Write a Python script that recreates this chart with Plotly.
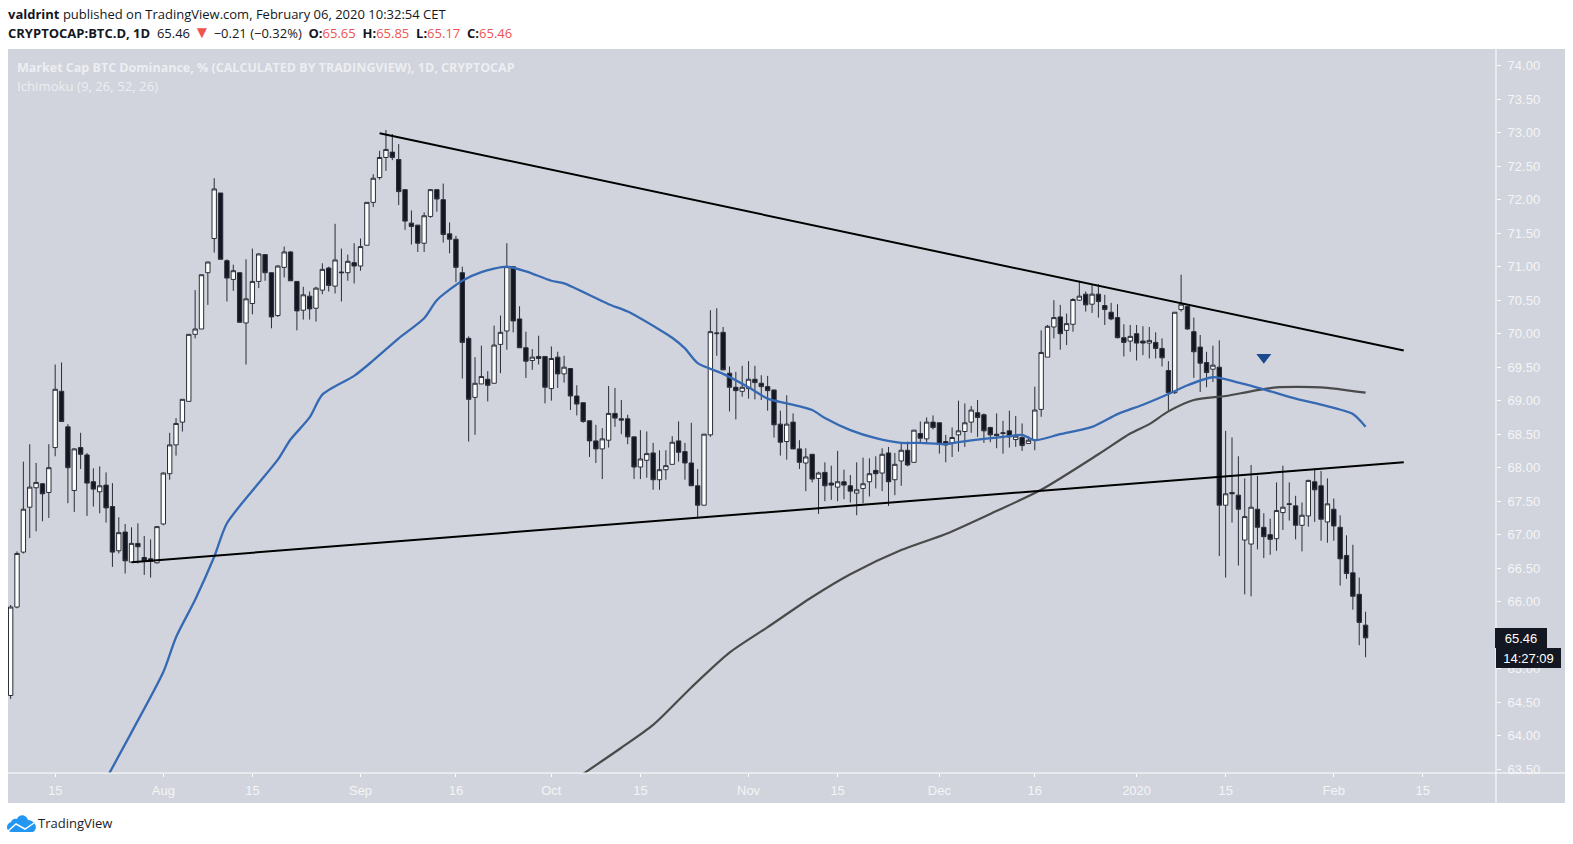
import pandas as pd
import plotly.graph_objects as go

START_DATE = "2019-07-08"
opens = [
 64.6,65.92,66.74,67.41,67.70,67.76,67.63,68.3,69.14,68.61,67.66,68.3,68.19,67.79,67.64,67.74,67.42,66.76,67.04,66.59,66.87,66.66,66.64,66.58,
 67.16,67.91,68.34,68.68,68.99,69.99,70.07,70.91,71.42,72.1,71.09,70.81,70.91,70.16,70.45,70.78,71.18,70.91,70.27,70.99,71.22,70.78,70.35,70.56,70.38,70.65,70.98,70.71,70.92,70.91,71.06,
 71.01,71.32,71.96,72.33,72.63,72.71,72.6,72.15,71.65,71.62,71.35,71.75,72.15,72.0,71.49,71.41,70.91,69.93,69.05,69.25,69.32,69.26,69.84,70.04,71.0,70.22,69.79,69.6,69.66,69.66,
 69.18,69.65,69.4,69.48,69.07,68.97,68.7,68.4,68.28,68.41,68.81,68.73,68.73,68.46,68.01,68.11,68.22,67.82,67.97,68.05,68.4,68.24,68.07,67.73,67.44,68.49,70.0,70.02,69.41,69.2,69.14,
 69.18,69.32,69.26,69.21,69.16,68.65,68.39,68.68,68.28,68.07,68.2,67.84,67.93,67.77,67.71,67.79,67.73,67.62,67.69,67.79,67.96,67.92,68.22,67.82,68.1,68.26,68.08,68.51,68.43,68.68,
 68.67,68.39,68.37,68.49,68.54,68.68,68.82,68.79,68.6,68.5,68.51,68.55,68.42,68.45,68.36,68.41,68.87,69.65,70.1,70.25,70.05,70.14,70.5,70.59,70.44,70.59,70.42,70.32,70.24,69.94,69.89,
 70.0,69.89,69.86,69.87,69.78,69.45,69.12,70.36,70.41,70.03,69.8,69.57,69.47,69.5,67.44,67.63,67.59,66.92,66.86,67.38,67.11,67.0,66.94,67.33,67.45,67.43,67.14,67.28,67.79,67.73,67.19,
 67.38,67.11,66.69,66.43,66.11,65.65,
]
highs = [
 65.95,66.75,68.09,68.35,68.07,67.77,68.35,69.54,69.57,68.65,68.29,68.52,68.22,67.99,68.02,67.93,67.77,67.26,67.16,67.11,67.17,66.98,66.93,67.13,
 67.93,68.52,68.74,69.02,69.99,70.65,70.88,71.07,72.32,72.1,71.11,71.03,70.92,71.11,71.27,71.2,71.18,70.91,71.02,71.3,71.23,70.78,70.7,70.63,70.7,71.05,71.0,71.64,71.27,71.18,71.35,
 71.42,71.96,72.38,72.73,73.04,72.98,72.83,72.15,71.84,71.62,71.81,72.15,72.15,72.24,71.66,71.46,71.0,69.96,69.65,69.82,69.44,70.12,70.27,71.35,71.0,70.41,70.03,69.77,69.97,69.66,
 69.81,69.73,69.67,69.48,69.23,68.97,68.7,68.64,68.59,69.22,69.19,69.01,68.79,68.46,68.56,68.54,68.37,68.26,68.26,68.47,68.69,68.37,68.67,67.98,68.5,70.35,70.38,70.1,69.51,69.43,69.52,
 69.59,69.52,69.38,69.37,69.16,68.85,69.08,68.81,68.41,68.29,68.2,67.94,68.08,68.03,68.25,67.97,67.89,68.08,68.15,68.14,68.17,68.29,68.31,68.22,68.36,68.39,68.56,68.69,68.75,68.78,
 68.67,68.49,68.6,69.0,68.96,68.92,69.01,68.81,68.61,68.81,68.7,68.85,68.77,68.66,68.47,69.21,70.05,70.13,70.5,70.43,70.3,70.53,70.79,70.63,70.73,70.74,70.58,70.46,70.44,70.14,70.13,
 70.13,70.11,70.1,70.02,69.93,69.59,70.32,70.88,70.42,70.24,69.98,69.73,69.82,69.9,68.55,68.45,68.17,67.84,68.04,67.88,67.32,67.24,67.78,68.03,67.78,67.58,67.48,67.82,67.99,67.95,67.84,
 67.54,67.29,66.99,66.85,66.36,65.85,
]
lows = [
 64.55,65.9,66.72,66.95,67.05,67.2,67.25,68.17,68.69,67.47,67.34,67.98,67.28,67.42,67.32,67.18,66.52,66.72,66.42,66.59,66.57,66.4,66.36,66.57,
 67.14,67.82,68.18,68.54,68.99,69.93,70.07,70.43,71.21,71.11,70.48,70.64,70.17,69.54,70.29,70.68,70.79,70.08,70.25,70.84,70.79,70.05,70.21,70.21,70.18,70.59,70.63,70.6,70.48,70.79,70.75,
 70.94,71.32,71.89,72.3,72.43,72.59,71.92,71.55,71.33,71.22,71.22,71.73,71.82,71.36,71.2,70.77,69.33,68.39,68.49,69.25,68.99,69.26,69.41,69.76,70.02,69.79,69.34,69.46,69.54,68.96,
 69.0,69.19,69.27,68.86,68.78,68.67,68.16,68.07,67.83,68.3,68.61,68.5,68.35,67.83,67.83,67.85,67.67,67.67,67.82,68.05,68.09,67.82,67.73,67.24,67.44,68.46,69.67,69.46,68.84,68.72,69.06,
 69.03,69.02,69.01,68.85,68.45,68.18,68.12,68.28,67.98,67.65,67.78,67.31,67.5,67.52,67.5,67.53,67.48,67.29,67.47,67.57,67.69,67.65,67.43,67.59,67.73,68.02,68.08,68.36,68.36,68.57,
 68.21,68.08,68.16,68.24,68.31,68.52,68.46,68.37,68.38,68.29,68.21,68.3,68.31,68.25,68.36,68.26,68.76,69.65,69.93,69.76,69.83,70.03,70.49,70.33,70.31,70.24,70.13,70.2,69.93,69.66,69.73,
 69.6,69.68,69.63,69.63,69.51,68.85,69.1,70.33,70.06,69.34,69.13,69.2,69.28,66.68,66.36,67.18,66.54,66.11,66.08,66.78,66.65,66.7,66.76,67.07,67.21,66.93,66.75,67.12,67.19,66.91,66.88,
 66.91,66.24,66.34,65.88,65.35,65.17,
]
closes = [
 65.92,66.72,67.38,67.71,67.78,67.61,68.0,69.17,68.69,68.0,68.28,68.2,67.77,67.68,67.73,67.4,66.74,67.03,66.61,66.87,66.82,66.61,66.6,67.12,
 67.92,68.34,68.66,69.02,69.99,70.07,70.88,71.07,72.16,71.11,70.83,70.94,70.17,70.52,70.78,71.19,70.91,70.25,71.01,71.22,70.79,70.34,70.58,70.37,70.68,70.96,70.72,71.1,70.91,71.08,71.01,
 71.3,71.96,72.32,72.63,72.75,72.63,72.12,71.68,71.6,71.35,71.76,72.15,72.01,71.48,71.41,70.99,69.87,69.02,69.26,69.36,69.23,69.83,70.02,71.0,70.19,69.79,69.59,69.65,69.63,69.2,
 69.63,69.4,69.5,69.07,68.95,68.69,68.4,68.28,68.43,68.81,68.74,68.71,68.46,68.01,68.13,68.21,67.82,67.97,68.03,68.38,68.23,68.07,67.73,67.44,68.5,70.03,70.01,69.46,69.2,69.15,69.2,
 69.32,69.27,69.21,69.15,68.64,68.38,68.65,68.28,68.08,68.16,67.83,67.92,67.73,67.74,67.79,67.74,67.65,67.67,67.76,67.91,67.91,68.2,67.79,68.05,68.26,68.04,68.56,68.44,68.68,68.6,
 68.35,68.34,68.45,68.55,68.67,68.86,68.75,68.55,68.49,68.48,68.52,68.46,68.47,68.33,68.41,68.86,69.72,70.11,70.24,70.0,70.15,70.51,70.56,70.43,70.59,70.48,70.36,70.22,69.94,69.87,69.96,
 69.86,69.86,69.9,69.78,69.64,69.12,70.32,70.44,70.07,69.73,69.56,69.42,69.53,67.44,67.61,67.61,67.38,67.27,67.41,67.11,66.97,66.93,67.36,67.41,67.46,67.14,67.29,67.81,67.67,67.23,67.46,
 67.13,66.64,66.42,66.08,65.69,65.46,
]

blue_dates = ["2019-07-23","2019-07-27","2019-08-01","2019-08-03","2019-08-06","2019-08-09","2019-08-11","2019-08-16","2019-08-19","2019-08-21","2019-08-24","2019-08-26","2019-08-31","2019-09-03","2019-09-07","2019-09-11","2019-09-13","2019-09-17","2019-09-20","2019-09-24","2019-09-27","2019-10-01","2019-10-03","2019-10-10","2019-10-13","2019-10-18","2019-10-20","2019-10-22","2019-10-24","2019-10-28","2019-11-01","2019-11-04","2019-11-07","2019-11-11","2019-11-13","2019-11-17","2019-11-21","2019-11-25","2019-11-28","2019-12-02","2019-12-04","2019-12-08","2019-12-12","2019-12-14","2019-12-16","2019-12-20","2019-12-25","2019-12-29","2020-01-02","2020-01-06","2020-01-09","2020-01-13","2020-01-17","2020-01-21","2020-01-26","2020-01-30","2020-02-04","2020-02-06"]
blue_vals = [63.35,64.05,64.95,65.47,66.03,66.67,67.17,67.77,68.12,68.42,68.75,69.09,69.37,69.6,69.93,70.23,70.5,70.79,70.92,71.0,70.93,70.79,70.75,70.44,70.33,70.06,69.94,69.78,69.56,69.4,69.2,69.03,68.96,68.86,68.74,68.56,68.44,68.37,68.37,68.35,68.38,68.43,68.47,68.49,68.41,68.5,68.61,68.8,68.94,69.1,69.23,69.35,69.27,69.17,69.03,68.94,68.8,68.61]

gray_dates = ["2019-10-06","2019-10-12","2019-10-17","2019-10-23","2019-10-29","2019-11-04","2019-11-11","2019-11-17","2019-11-25","2019-12-02","2019-12-09","2019-12-17","2019-12-26","2019-12-31","2020-01-03","2020-01-06","2020-01-10","2020-01-15","2020-01-19","2020-01-23","2020-01-30","2020-02-02","2020-02-06"]
gray_vals = [63.43,63.82,64.16,64.72,65.24,65.62,66.07,66.41,66.77,67.01,67.31,67.67,68.2,68.51,68.65,68.84,69.01,69.07,69.14,69.2,69.2,69.17,69.12]

upper_dates = ["2019-09-04","2020-02-12"]
upper_vals = [72.99,69.75]
lower_dates = ["2019-07-27","2020-02-12"]
lower_vals = [66.59,68.08]
flag_date = ["2020-01-21"]
flag_val = [69.65]

tick_dates = ["2019-07-15","2019-08-01","2019-08-15","2019-09-01","2019-09-16","2019-10-01","2019-10-15","2019-11-01","2019-11-15","2019-12-01","2019-12-16","2020-01-01","2020-01-15","2020-02-01","2020-02-15"]
tick_text = ["15","Aug","15","Sep","16","Oct","15","Nov","15","Dec","16","2020","15","Feb","15"]
price_ticks = [63.5,64,64.5,65,65.5,66,66.5,67,67.5,68,68.5,69,69.5,70,70.5,71,71.5,72,72.5,73,73.5,74]

BG = "#d1d4dc"
DARK = "#131722"
LABEL = "#f4f5f7"
PL, PR, PT, PB = 8, 1496, 49, 773

def fx(x):
    return (x - PL) / (PR - PL)
def fy(y):
    return 1 - (y - PT) / (PB - PT)
def curve(start, segments):
    s = f"M {fx(start[0]):.5f},{fy(start[1]):.5f}"
    for a, b, c in segments:
        s += " C " + " ".join(f"{fx(p[0]):.5f},{fy(p[1]):.5f}" for p in (a, b, c))
    return s + " Z"
def poly(points):
    return "M " + " L ".join(f"{fx(p[0]):.5f},{fy(p[1]):.5f}" for p in points)

dates = pd.date_range(START_DATE, periods=len(opens)).strftime("%Y-%m-%d").tolist()

fig = go.Figure()
fig.add_trace(go.Candlestick(
    x=dates, open=opens, high=highs, low=lows, close=closes,
    increasing=dict(fillcolor="#ffffff", line=dict(color="#2a2d38", width=1)),
    decreasing=dict(fillcolor=DARK, line=dict(color="#2a2d38", width=1)),
    whiskerwidth=0, hoverinfo="skip", showlegend=False))
fig.add_trace(go.Scatter(x=gray_dates, y=gray_vals, mode="lines",
                         line=dict(color="#4a4a4a", width=2.2, shape="spline", smoothing=0.7), hoverinfo="skip"))
fig.add_trace(go.Scatter(x=blue_dates, y=blue_vals, mode="lines",
                         line=dict(color="#3569b3", width=2.3, shape="spline", smoothing=0.7), hoverinfo="skip"))
fig.add_trace(go.Scatter(x=upper_dates, y=upper_vals, mode="lines", line=dict(color="#000000", width=2), hoverinfo="skip"))
fig.add_trace(go.Scatter(x=lower_dates, y=lower_vals, mode="lines", line=dict(color="#000000", width=2), hoverinfo="skip"))
fig.add_trace(go.Scatter(x=flag_date, y=flag_val, mode="markers",
                         marker=dict(symbol="triangle-down", size=13, color="#1a4a8e"), hoverinfo="skip"))

cloud = curve((12, 832), [((6, 832), (5, 824), (11, 822)), ((12, 819), (15, 818), (17, 819)),
                          ((19, 814), (26, 814), (28, 820)), ((33, 820), (38, 826), (35, 830)),
                          ((34, 832), (33, 832), (31, 832))])
shapes = [
    dict(type="rect", xref="paper", yref="paper", x0=fx(8), x1=fx(1565), y0=fy(49), y1=fy(803),
         fillcolor=BG, line=dict(width=0), layer="below"),
    dict(type="line", xref="paper", yref="paper", x0=fx(8), x1=fx(1565), y0=0, y1=0, line=dict(color="#ffffff", width=1)),
    dict(type="line", xref="paper", yref="paper", x0=1, x1=1, y0=fy(49), y1=fy(803), line=dict(color="#ffffff", width=1)),
    dict(type="path", xref="paper", yref="paper", fillcolor="#2196f3", line=dict(width=0), path=cloud),
    dict(type="path", xref="paper", yref="paper", line=dict(color="#ffffff", width=1.5),
         path=poly([(8, 831), (16, 824), (25, 829), (34, 823)])),
]

def note(x, y, text, size=13, color="#131722", family="Open Sans", **kw):
    return dict(xref="paper", yref="paper", x=fx(x), y=fy(y), text=text, showarrow=False,
                xanchor="left", yanchor="middle", align="left", font=dict(size=size, color=color, family=family), **kw)

RED = "#ef5350"
annotations = [
    note(6, 14, "<b>valdrint</b> published on TradingView.com, February 06, 2020 10:32:54 CET", size=13),
    note(6, 31.5, f"<b>CRYPTOCAP:BTC.D, 1D</b>  65.46 <span style='color:{RED};font-size:17px'>▼</span> −0.21 (−0.32%)  "
                f"<b>O:</b><span style='color:{RED}'>65.65</span>  <b>H:</b><span style='color:{RED}'>65.85</span>  "
                f"<b>L:</b><span style='color:{RED}'>65.17</span>  <b>C:</b><span style='color:{RED}'>65.46</span>", size=13),
    note(15, 67, "<b>Market Cap BTC Dominance, % (CALCULATED BY TRADINGVIEW), 1D, CRYPTOCAP</b>", size=12.5, color="#eceef2"),
    note(15, 86, "Ichimoku (9, 26, 52, 26)", size=13.2, color="#eceef2"),
    note(36, 823, "TradingView", size=13, color="#1b1e28"),
    dict(xref="paper", yref="y", x=fx(1495), y=closes[-1], text="65.46", showarrow=False, xanchor="left", yanchor="middle",
         width=52, height=20, bgcolor=DARK, borderwidth=0, borderpad=0,
         font=dict(size=13, color="#ffffff", family="Liberation Sans")),
    dict(xref="paper", yref="paper", x=fx(1496), y=fy(658), text="14:27:09", showarrow=False, xanchor="left", yanchor="middle",
         width=65, height=20, bgcolor=DARK, borderwidth=0, borderpad=0,
         font=dict(size=13, color="#ffffff", family="Liberation Sans")),
]

fig.update_layout(
    width=1573, height=844, autosize=False,
    margin=dict(l=PL, r=1573 - PR, t=PT, b=844 - PB, pad=0),
    paper_bgcolor="#ffffff", plot_bgcolor=BG, showlegend=False, hovermode=False,
    boxgap=0.02,
    shapes=shapes, annotations=annotations,
    xaxis=dict(type="date", range=["2019-07-07 14:00", "2020-02-26 12:00"], rangeslider=dict(visible=False),
               tickmode="array", tickvals=tick_dates, ticktext=tick_text, showgrid=False, zeroline=False,
               ticks="outside", ticklen=3, tickcolor="#ffffff", showline=False, ticklabelstandoff=2,
               tickfont=dict(size=13, color=LABEL, family="Liberation Sans")),
    yaxis=dict(side="right", range=[63.443, 74.249], tickmode="array", tickvals=price_ticks,
               ticktext=[f"{v:.2f}" for v in price_ticks], showgrid=False, zeroline=False,
               ticks="outside", ticklen=4, tickcolor="#ffffff", showline=False, ticklabelstandoff=4,
               tickfont=dict(size=13, color=LABEL, family="Liberation Sans")),
)

fig.write_html("out.html", config={"displayModeBar": False},
               post_script="document.body.style.margin='0';document.body.style.overflow='hidden';")
